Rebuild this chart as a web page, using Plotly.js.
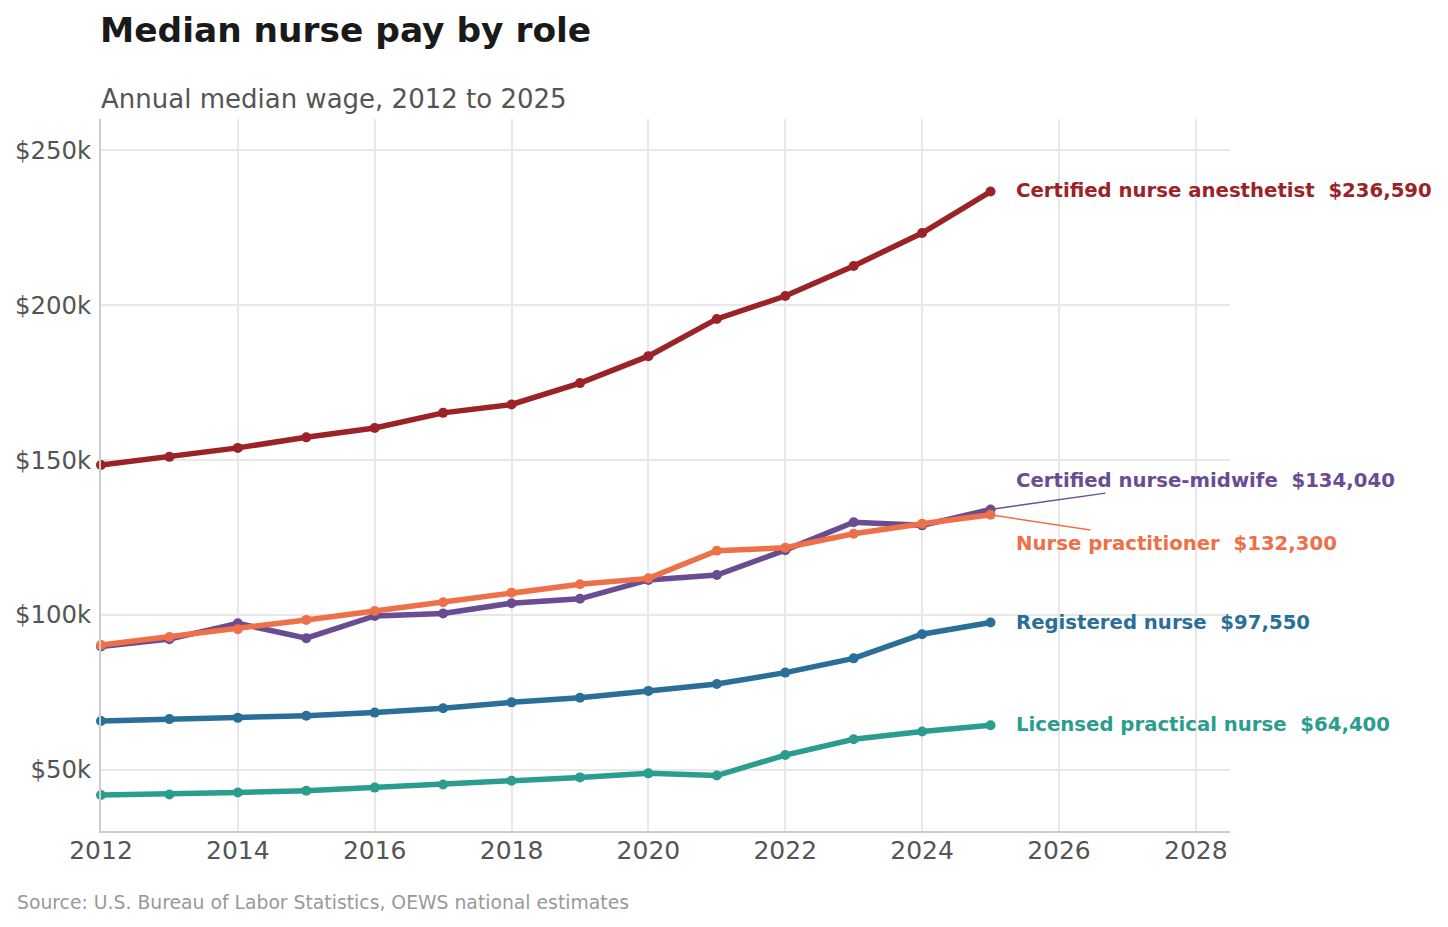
<!DOCTYPE html>
<html>
<head>
<meta charset="utf-8">
<script src="https://cdn.plot.ly/plotly-3.0.1.min.js"></script>
<style>
  html, body { margin: 0; padding: 0; background: #fff; }
  #chart { width: 1448px; height: 927px; }
</style>
</head>
<body>
<div id="chart"></div>
<script>
// Median annual wage by nursing role, in thousands of dollars
const years = [2012, 2013, 2014, 2015, 2016, 2017, 2018, 2019, 2020, 2021, 2022, 2023, 2024, 2025];

const anesthetist = [148.4, 151.0, 153.9, 157.3, 160.3, 165.2, 167.9, 174.8, 183.5, 195.5, 202.9, 212.6, 223.2, 236.59];
const midwife     = [89.8, 92.2, 97.3, 92.5, 99.7, 100.5, 103.8, 105.2, 111.3, 112.9, 120.9, 129.9, 128.9, 134.04];
const practitioner = [90.3, 92.9, 95.4, 98.4, 101.3, 104.1, 107.2, 109.9, 111.8, 120.7, 121.7, 126.2, 129.4, 132.3];
const registered  = [65.8, 66.4, 66.8, 67.5, 68.5, 69.9, 71.8, 73.3, 75.5, 77.7, 81.4, 86.0, 93.8, 97.55];
const practical   = [41.9, 42.1, 42.7, 43.3, 44.3, 45.3, 46.5, 47.6, 48.9, 48.2, 54.8, 59.9, 62.4, 64.4];

const seriesNames = ['Certified nurse anesthetist', 'Certified nurse-midwife', 'Nurse practitioner', 'Registered nurse', 'Licensed practical nurse'];
const seriesValues = [anesthetist, midwife, practitioner, registered, practical];
const seriesColors = ['#9B2226', '#6A4C93', '#EE7048', '#2A6F97', '#2A9D8F'];
// where each end label sits (thousands of dollars), nudged to avoid overlap
const labelY = [236.8, 143.5, 122.9, 97.7, 64.5];

const FONT = 'DejaVu Sans, Arial, sans-serif';

const traces = seriesValues.map((vals, i) => ({
  x: years,
  y: vals,
  type: 'scatter',
  mode: 'lines+markers',
  name: seriesNames[i],
  line: { color: seriesColors[i], width: 5.5 },
  marker: { color: seriesColors[i], size: 10 },
  cliponaxis: false,
  hovertemplate: '%{x}: $%{y:.1f}k<extra>' + seriesNames[i] + '</extra>'
}));

const lastYear = years[years.length - 1];

const endLabels = seriesValues.map((vals, i) => ({
  x: lastYear + 0.34,
  y: labelY[i],
  xref: 'x',
  yref: 'y',
  xanchor: 'left',
  yanchor: 'middle',
  showarrow: false,
  text: '<b>' + seriesNames[i] + '  $' + Math.round(vals[vals.length - 1] * 1000).toLocaleString('en-US') + '</b>',
  font: { family: FONT, size: 19.7, color: seriesColors[i] }
}));

// thin leader lines for the two labels that were pushed apart
const leaders = [1, 2].map(i => ({
  type: 'line',
  xref: 'x',
  yref: 'y',
  x0: lastYear,
  y0: seriesValues[i][seriesValues[i].length - 1],
  x1: i === 1 ? lastYear + 1.68 : lastYear + 1.46,
  y1: i === 1 ? labelY[i] - 4.2 : labelY[i] + 4.5,
  line: { color: seriesColors[i], width: 1.5 },
  layer: 'above'
}));

const layout = {
  width: 1448,
  height: 927,
  paper_bgcolor: 'white',
  plot_bgcolor: 'white',
  margin: { l: 101, r: 218, t: 119, b: 96 },
  showlegend: false,
  font: { family: FONT, color: '#555' },
  title: {
    text: '<b>Median nurse pay by role</b>',
    xref: 'container',
    yref: 'container',
    x: 100 / 1448,
    xanchor: 'left',
    y: 1 - 30 / 927,
    yanchor: 'middle',
    font: { family: FONT, size: 34.4, color: '#1a1a1a' }
  },
  xaxis: {
    range: [2012, 2028.5],
    tickvals: [2012, 2014, 2016, 2018, 2020, 2022, 2024, 2026, 2028],
    ticks: '',
    showgrid: true,
    gridcolor: '#e8e8e8',
    gridwidth: 1.5,
    zeroline: false,
    showline: true,
    linecolor: '#cccccc',
    linewidth: 2,
    tickfont: { family: FONT, size: 25, color: '#555' },
    ticklabelstandoff: -4
  },
  yaxis: {
    range: [30.3, 260],
    tickvals: [50, 100, 150, 200, 250],
    ticktext: ['$50k', '$100k', '$150k', '$200k', '$250k'],
    ticks: '',
    showgrid: true,
    gridcolor: '#e8e8e8',
    gridwidth: 1.5,
    zeroline: false,
    showline: true,
    linecolor: '#cccccc',
    linewidth: 2,
    tickfont: { family: FONT, size: 24.4, color: '#555' },
    ticklabelstandoff: 3
  },
  shapes: leaders,
  annotations: endLabels.concat([
    {
      text: 'Annual median wage, 2012 to 2025',
      xref: 'paper', yref: 'paper',
      x: -2 / 1129, y: (831 - 99) / 712,
      xanchor: 'left', yanchor: 'middle',
      showarrow: false,
      font: { family: FONT, size: 26, color: '#555' }
    },
    {
      text: 'Source: U.S. Bureau of Labor Statistics, OEWS national estimates',
      xref: 'paper', yref: 'paper',
      x: (15 - 101) / 1129, y: (831 - 902) / 712,
      xanchor: 'left', yanchor: 'middle',
      showarrow: false,
      font: { family: FONT, size: 18.8, color: '#999' }
    }
  ])
};

Plotly.newPlot('chart', traces, layout, { displayModeBar: false, responsive: false });
</script>
</body>
</html>
